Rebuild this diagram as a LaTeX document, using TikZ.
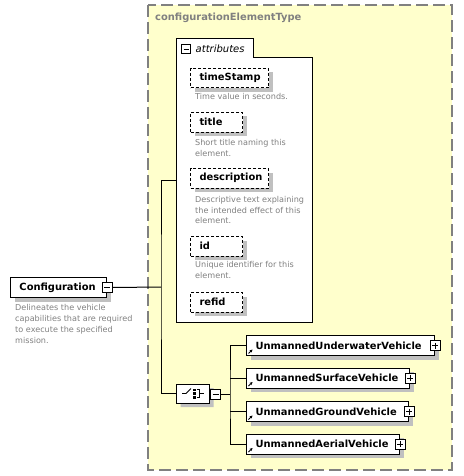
\documentclass[tikz,border=0pt]{standalone}
\usepackage{fontspec}
\setmainfont{DejaVu Sans}
\usetikzlibrary{shadows,shapes.misc,calc,arrows.meta}
\definecolor{bgyellow}{RGB}{255,255,204}
\definecolor{framegray}{RGB}{128,128,128}
\definecolor{descgray}{RGB}{128,128,128}
\definecolor{shadowc}{RGB}{192,192,192}
\begin{document}
\begin{tikzpicture}[x=1pt,y=-1pt,
  every node/.style={inner sep=0pt},
  boxfont/.style={font=\fontsize{9.9}{12}\selectfont\bfseries},
  descfont/.style={font=\fontsize{8.1}{10.8}\selectfont, text=descgray},
  shade3/.style={drop shadow={shadow xshift=4pt,shadow yshift=-4pt,fill=shadowc,opacity=1}},
  elem/.style={draw=black,fill=white,line width=1pt,boxfont,shade3,align=left,inner xsep=9pt,minimum height=20pt},
  attrbox/.style={elem,anchor=north west,dash pattern=on 3pt off 2pt,minimum height=19.5pt},
  desc/.style={descfont,anchor=north west,align=left},
  conn/.style={draw=black,line width=1pt},
  minusbox/.style={draw=black,fill=white,line width=.8pt,minimum size=10pt,
    path picture={\draw[line width=.8pt] ([xshift=2pt]path picture bounding box.west) -- ([xshift=-2pt]path picture bounding box.east);}},
  plusbox/.style={draw=black,fill=white,line width=.8pt,minimum size=10pt,
    path picture={\draw[line width=.8pt] ([xshift=2pt]path picture bounding box.west) -- ([xshift=-2pt]path picture bounding box.east);
      \draw[line width=.8pt] ([yshift=-2pt]path picture bounding box.north) -- ([yshift=2pt]path picture bounding box.south);}},
  refarrow/.style={line width=.9pt,-{Stealth[length=3pt,width=3pt]}}
]
\useasboundingbox (0,0) rectangle (463,476);

% outer complex type frame
\draw[fill=bgyellow,draw=framegray,line width=1.2pt,dash pattern=on 12pt off 5pt] (148,5) rectangle (452,470);
\node[anchor=west,font=\fontsize{9.9}{12}\selectfont\bfseries,text=framegray] (ctype) at (155,18) {configurationElementType};

% attributes container
\draw[fill=white,line width=1pt] (176,39) -- (253,39) -- (253,58) -- (312,58) -- (312,322) -- (176,322) -- cycle;
\coordinate (attrin) at (176,180);
\node[minusbox,minimum size=9pt] (attrminus) at (186,49) {};
\node[anchor=west,font=\fontsize{10}{12}\selectfont\itshape] (attrlabel) at (195.5,49) {attributes};

\node[attrbox,text width=60pt] (ts) at (190,68) {timeStamp};
\node[desc] (tsd) at (195,93.5) {Time value in seconds.};
\node[attrbox,text width=34pt] (tt) at (190,112) {title};
\node[desc] (ttd) at (195,139) {Short title naming this\\element.};
\node[attrbox,text width=60pt] (de) at (190,168) {description};
\node[desc] (ded) at (195,196) {Descriptive text explaining\\the intended effect of this\\element.};
\node[attrbox,text width=34pt] (id) at (190,236) {id};
\node[desc] (idd) at (195,261.5) {Unique identifier for this\\element.};
\node[attrbox,text width=34pt] (rf) at (190,292) {refid};

% Configuration element
\node[elem,anchor=north west,text width=78pt] (cfg) at (10,277) {Configuration};
\node[minusbox] (cfgminus) at (cfg.east) {};
\node[desc] (cfgd) at (15,304.5) {Delineates the vehicle\\capabilities that are required\\to execute the specified\\mission.};

% choice compositor
\node[chamfered rectangle,chamfered rectangle xsep=5pt,chamfered rectangle ysep=5pt,draw=black,fill=white,line width=1pt,shade3,minimum width=33pt,minimum height=19pt,inner sep=0pt] (choice) at (193,393.5) {};
\node[minusbox] (chminus) at (215.5,394) {};
\draw[line width=.9pt] ($(choice.center)+(-11,0)$) -- ++(4,0) -- ++(5,-5);
\fill ($(choice.center)+(0,-5)$) rectangle ++(2.5,2.5);
\fill ($(choice.center)+(0,-1.2)$) rectangle ++(2.5,2.5);
\fill ($(choice.center)+(0,2.6)$) rectangle ++(2.5,2.5);
\draw[line width=.9pt] ($(choice.center)+(3.5,-3.8)$) -- ++(3,0) -- ++(0,7.6) -- ++(-3,0);
\draw[line width=.9pt] ($(choice.center)+(6.5,0)$) -- ++(4,0);

% child elements
\node[elem,anchor=west,text width=170pt] (uuv) at (246,345.5) {UnmannedUnderwaterVehicle};
\node[elem,anchor=west,text width=145pt] (usv) at (246,378) {UnmannedSurfaceVehicle};
\node[elem,anchor=west,text width=144pt] (ugv) at (246,411.5) {UnmannedGroundVehicle};
\node[elem,anchor=west,text width=135pt] (uav) at (246,444) {UnmannedAerialVehicle};
\foreach \n in {uuv,usv,ugv,uav}{
  \node[plusbox] (\n plus) at (\n.east) {};
  \draw[refarrow] ($(\n.south west)+(2.5,-2.5)$) -- ++(4,-4);
}

% connectors
\coordinate (vbus) at (161,287);
\coordinate (cbus) at (230,394);
\draw[conn] (cfgminus.east) -- (vbus);
\draw[conn] (attrin) -| (vbus) |- (choice.west);
\draw[conn] (choice.east) -- (chminus.west);
\draw[conn] (chminus.east) -- (cbus);
\draw[conn] (uuv.west) -| (cbus) |- (uav.west);
\draw[conn] (usv.west) -- (usv.west -| cbus);
\draw[conn] (ugv.west) -- (ugv.west -| cbus);
\end{tikzpicture}
\end{document}
